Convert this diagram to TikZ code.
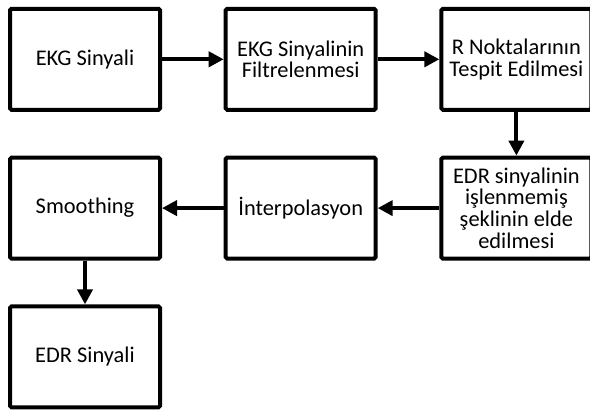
\documentclass[tikz,border=0pt]{standalone}
\usepackage{fontspec}
\setmainfont{Carlito}
\usetikzlibrary{positioning,arrows.meta}

\begin{document}
\begin{tikzpicture}[
    node distance=43.8pt and 61.7pt,
    stepbox/.style={rectangle, draw, line width=4pt, rounded corners=1.5pt,
        minimum width=150pt, minimum height=101pt, align=center, inner sep=2pt,
        font=\fontsize{22.4}{21.7}\selectfont},
    flow/.style={line width=4pt, -{Triangle[length=15pt,width=15pt]}}
]
    \useasboundingbox (0,0) rectangle (590pt,-410pt);
    \node[stepbox] (ekg) at (85pt,-59.3pt) {EKG Sinyali};
    \node[stepbox, right=of ekg] (filtre) {EKG Sinyalinin\\Filtrelenmesi};
    \node[stepbox, right=of filtre] (rnokta) {R Noktalarının\\Tespit Edilmesi};
    \node[stepbox, below=of rnokta] (ham) {EDR sinyalinin\\işlenmemiş\\şeklinin elde\\edilmesi};
    \node[stepbox, below=of filtre] (interp) {İnterpolasyon};
    \node[stepbox, below=of ekg] (smooth) {Smoothing};
    \node[stepbox, below=of smooth] (edr) {EDR Sinyali};

    \draw[flow] (ekg) -- (filtre);
    \draw[flow] (filtre) -- (rnokta);
    \draw[flow] (rnokta) -- (ham);
    \draw[flow] (ham) -- (interp);
    \draw[flow] (interp) -- (smooth);
    \draw[flow] (smooth) -- (edr);
\end{tikzpicture}
\end{document}
